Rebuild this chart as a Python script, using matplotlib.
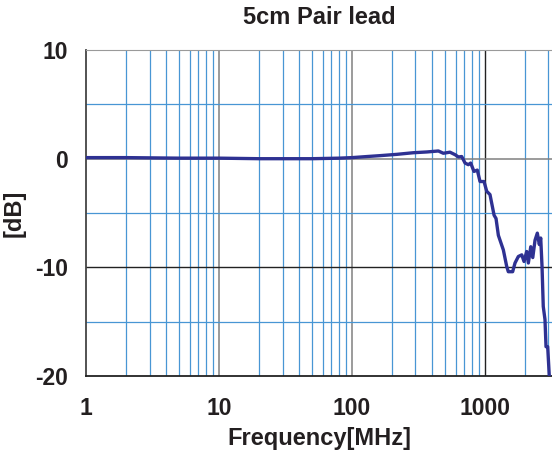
import numpy as np
import matplotlib
matplotlib.use('Agg')
import matplotlib.pyplot as plt
from matplotlib.ticker import FixedLocator, NullFormatter

plt.rcParams['font.family'] = ['Liberation Sans', 'DejaVu Sans']
plt.rcParams['axes.unicode_minus'] = False

# data
freq = [1, 2, 5, 10, 20, 50, 80, 100, 130, 162, 217, 289, 365, 446, 486, 545,
        595, 631, 668, 708, 749, 780, 826, 875, 917, 983, 1030, 1090, 1170,
        1210, 1260, 1374, 1455, 1497, 1614, 1681, 1781, 1890, 1965, 2058, 2118,
        2208, 2286, 2378, 2474, 2561, 2624, 2684, 2742, 2825, 2876, 2960, 3047]
gain = [0.1, 0.1, 0.05, 0.05, 0.0, 0.0, 0.05, 0.1, 0.2, 0.28, 0.4, 0.55, 0.62,
        0.71, 0.5, 0.6, 0.37, 0.16, 0.2, -0.4, -0.55, -0.4, -1.17, -1.05, -2.1,
        -2.1, -3.0, -3.3, -5.2, -5.5, -7.05, -8.4, -9.9, -10.4, -10.4, -9.6,
        -9.0, -8.85, -9.46, -8.54, -9.6, -8.1, -9.1, -7.5, -6.85, -7.9, -7.3,
        -9.9, -13.6, -14.8, -17.3, -17.3, -20.1]

xticks = [1, 10, 100, 1000]
xlabels = ['1', '10', '100', '1000']
yticks = [-20, -10, 0, 10]

fig = plt.figure(figsize=(5.52, 4.5), dpi=100)
ax = fig.add_axes([0.156, 0.1644, 0.844, 0.7244])
ax.set_xscale('log')
ax.set_xlim(1, 3190)
ax.set_ylim(-20, 10)

# grid like the original datasheet
blue = '#4896d4'
for dec in [1, 10, 100, 1000]:
    for m in range(2, 10):
        if dec * m < 3190:
            ax.axvline(dec * m, color=blue, lw=0.9, zorder=1)
ax.axvline(10, color='#808080', lw=1.1, zorder=1)
ax.axvline(100, color='#808080', lw=1.1, zorder=1)
ax.axvline(1000, color='#222222', lw=1.0, zorder=1)
for yv in [5, -5, -15]:
    ax.axhline(yv, color=blue, lw=0.9, zorder=1)
ax.axhline(0, color='#808080', lw=1.1, zorder=1)
ax.axhline(-10, color='#222222', lw=1.0, zorder=1)

ax.plot(freq, gain, color='#2e3192', lw=2.4, zorder=3, clip_on=True)

ax.xaxis.set_major_locator(FixedLocator(xticks))
ax.set_xticklabels(xlabels)
ax.xaxis.set_minor_formatter(NullFormatter())
ax.set_yticks(yticks)
ax.tick_params(axis='both', which='both', length=0, labelsize=16.5)
ax.tick_params(axis='x', pad=15)
ax.tick_params(axis='y', pad=13)
for lab in ax.get_xticklabels() + ax.get_yticklabels():
    lab.set_fontweight('bold')
    lab.set_color('#231f20')

ax.spines['right'].set_visible(False)
ax.spines['top'].set_color('#9a9a9a')
ax.spines['left'].set_color('#444444')
ax.spines['bottom'].set_color('#222222')
for s in ['left', 'bottom']:
    ax.spines[s].set_linewidth(1.3)

ax.set_xlabel('Frequency[MHz]', fontsize=17, fontweight='bold', color='#231f20', labelpad=5)
ax.set_ylabel('[dB]', fontsize=17, fontweight='bold', color='#231f20', labelpad=7)
ax.set_title('5cm Pair lead', fontsize=17, fontweight='bold', color='#231f20', pad=19)

plt.savefig('out.png', dpi=100)
